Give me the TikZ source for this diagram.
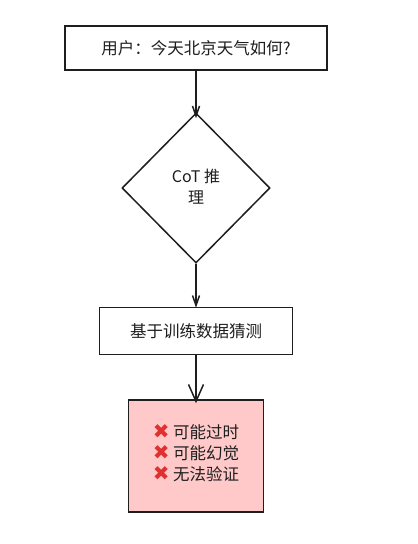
\documentclass[tikz,border=0pt]{standalone}
\usepackage{fontspec}
\setmainfont{Noto Sans CJK SC}
\newfontfamily\symfont{DejaVu Sans}
\usetikzlibrary{shapes.geometric,arrows.meta}
\definecolor{pinkfill}{HTML}{FFC9C9}
\definecolor{inkc}{HTML}{1E1E1E}
\definecolor{xred}{HTML}{E03131}
\newcommand{\xmark}{{\fontsize{20}{21}\symfont\color{xred}\bfseries ✖}}
\begin{document}
\begin{tikzpicture}[x=1pt,y=-1pt,
  every node/.style={font=\fontsize{16.5}{20}\selectfont, text=inkc},
  boxstyle/.style={draw=inkc, line width=1.5pt, inner sep=0pt},
  conn/.style={draw=inkc, line width=1.5pt, -{Straight Barb[length=10pt,width=7pt,line width=1.5pt]}},
  connwide/.style={draw=inkc, line width=1.5pt, -{Straight Barb[length=17pt,width=15pt,line width=1.5pt]}}]
\useasboundingbox (0,0) rectangle (418,544);
\node[boxstyle, minimum width=262pt, minimum height=44pt] (q) at (196,48) {用户：今天北京天气如何?};
\node[boxstyle, diamond, minimum width=148pt, minimum height=150pt, aspect=1] (cot) at (196,188) {};
\node[align=center, font=\fontsize{16}{21}\selectfont] (cotl) at (196,187) {CoT 推\\理};
\node[boxstyle, minimum width=193pt, minimum height=47pt] (g) at (196,331) {基于训练数据猜测};
\node[boxstyle, fill=pinkfill, minimum width=135pt, minimum height=112pt] (r) at (196,456) {};
\node[align=left, font=\fontsize{16.5}{21}\selectfont] (rl) at (196,453) {\xmark\ 可能过时\\\xmark\ 可能幻觉\\\xmark\ 无法验证};
\draw[conn] (q.south) -- ([yshift=-6pt]cot.north);
\draw[conn] (cot.south) -- ([yshift=-1pt]g.north);
\draw[connwide] (g.south) -- ([yshift=-4pt]r.north);
\end{tikzpicture}
\end{document}
